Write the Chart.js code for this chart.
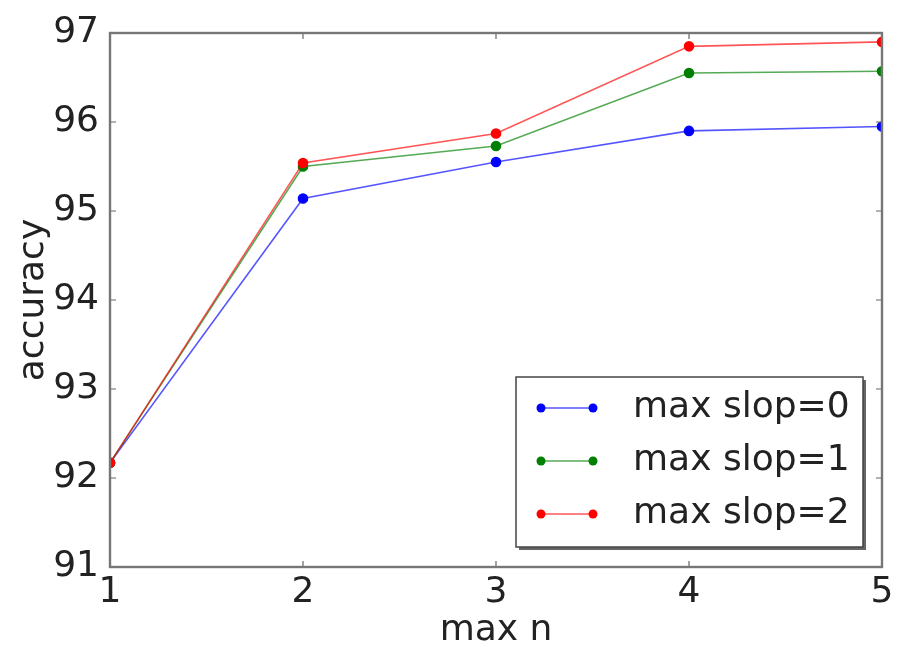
<!DOCTYPE html>
<html>
<head>
<meta charset="utf-8">
<script src="https://cdn.jsdelivr.net/npm/chart.js@4.4.1/dist/chart.umd.min.js"></script>
<style>
  html, body { margin: 0; padding: 0; background: #fff; }
  #wrap { width: 897px; height: 653px; position: relative; }
</style>
</head>
<body>
<div id="wrap"><canvas id="c" width="897" height="653"></canvas></div>
<script>
// values
const maxN = [1, 2, 3, 4, 5];
const slop0 = [92.17, 95.14, 95.55, 95.90, 95.95];
const slop1 = [92.17, 95.50, 95.73, 96.55, 96.57];
const slop2 = [92.17, 95.54, 95.87, 96.85, 96.90];
const seriesLabels = ['max slop=0', 'max slop=1', 'max slop=2'];
const seriesColors = ['#0000ff', '#008000', '#ff0000'];
const xTicks = [1, 2, 3, 4, 5];
const yTicks = [91, 92, 93, 94, 95, 96, 97];

const FONT = 'DejaVu Sans';
const FS = 36;

function ds(label, vals, col, order) {
  return {
    label,
    order, // later series drawn on top, like matplotlib
    data: maxN.map((x, i) => ({ x, y: vals[i] })),
    borderColor: col + 'aa',
    backgroundColor: col,
    pointBackgroundColor: col,
    pointBorderColor: col,
    borderWidth: 1.6,
    pointRadius: 4.5,
    pointHoverRadius: 4.5,
    tension: 0
  };
}

// frame, inward ticks and the boxed legend (matplotlib look)
const mplDecor = {
  id: 'mplDecor',
  afterDatasetsDraw(chart) {
    const { ctx, chartArea: a, scales } = chart;
    ctx.save();
    ctx.strokeStyle = '#666';
    ctx.lineWidth = 1.2;
    xTicks.forEach(v => {
      const px = scales.x.getPixelForValue(v);
      ctx.beginPath();
      ctx.moveTo(px, a.bottom); ctx.lineTo(px, a.bottom - 6);
      ctx.moveTo(px, a.top); ctx.lineTo(px, a.top + 6);
      ctx.stroke();
    });
    yTicks.forEach(v => {
      const py = scales.y.getPixelForValue(v);
      ctx.beginPath();
      ctx.moveTo(a.left, py); ctx.lineTo(a.left + 6, py);
      ctx.moveTo(a.right, py); ctx.lineTo(a.right - 6, py);
      ctx.stroke();
    });
    ctx.strokeStyle = '#777';
    ctx.lineWidth = 2.4;
    ctx.strokeRect(a.left, a.top, a.right - a.left, a.bottom - a.top);

    // legend box, lower right
    const bx = 516, by = 377, bw = 347, bh = 170;
    ctx.fillStyle = '#666';
    ctx.fillRect(bx + 3, by + 3, bw, bh);
    ctx.fillStyle = '#fff';
    ctx.fillRect(bx, by, bw, bh);
    ctx.strokeStyle = '#444';
    ctx.lineWidth = 1.5;
    ctx.strokeRect(bx, by, bw, bh);
    ctx.font = FS + 'px "' + FONT + '"';
    ctx.textBaseline = 'middle';
    chart.data.datasets.forEach((d, i) => {
      const y = by + 31 + i * 53;
      ctx.strokeStyle = d.borderColor;
      ctx.lineWidth = 1.6;
      ctx.beginPath();
      ctx.moveTo(541, y); ctx.lineTo(593, y);
      ctx.stroke();
      ctx.fillStyle = d.backgroundColor;
      [541, 593].forEach(px => {
        ctx.beginPath(); ctx.arc(px, y, 4.5, 0, Math.PI * 2); ctx.fill();
      });
      ctx.fillStyle = '#222';
      ctx.fillText(d.label, 633, y);
    });
    ctx.restore();
  }
};

new Chart(document.getElementById('c'), {
  type: 'line',
  data: {
    datasets: [
      ds(seriesLabels[0], slop0, seriesColors[0], 3),
      ds(seriesLabels[1], slop1, seriesColors[1], 2),
      ds(seriesLabels[2], slop2, seriesColors[2], 1)
    ]
  },
  options: {
    responsive: false,
    animation: false,
    layout: { padding: { top: 33, right: 15, left: 0, bottom: 0 } },
    plugins: { legend: { display: false }, tooltip: { enabled: false } },
    scales: {
      x: {
        type: 'linear', min: 1, max: 5,
        afterBuildTicks: s => { s.ticks = xTicks.map(v => ({ value: v })); },
        afterFit: s => { s.height = 86; },
        grid: { display: false },
        border: { display: false },
        ticks: { color: '#222', padding: 0, font: { family: FONT, size: FS, lineHeight: 1 } },
        title: { display: true, text: 'max n', color: '#222', padding: { top: 0, bottom: 1 }, font: { family: FONT, size: FS } }
      },
      y: {
        min: 91, max: 97,
        afterBuildTicks: s => { s.ticks = yTicks.map(v => ({ value: v })); },
        afterFit: s => { s.width = 110; },
        grid: { display: false },
        border: { display: false },
        ticks: { color: '#222', padding: 3, font: { family: FONT, size: FS } },
        title: { display: true, text: 'accuracy', color: '#222', padding: { top: 12, bottom: 0 }, font: { family: FONT, size: FS } }
      }
    }
  },
  plugins: [mplDecor]
});
</script>
</body>
</html>
